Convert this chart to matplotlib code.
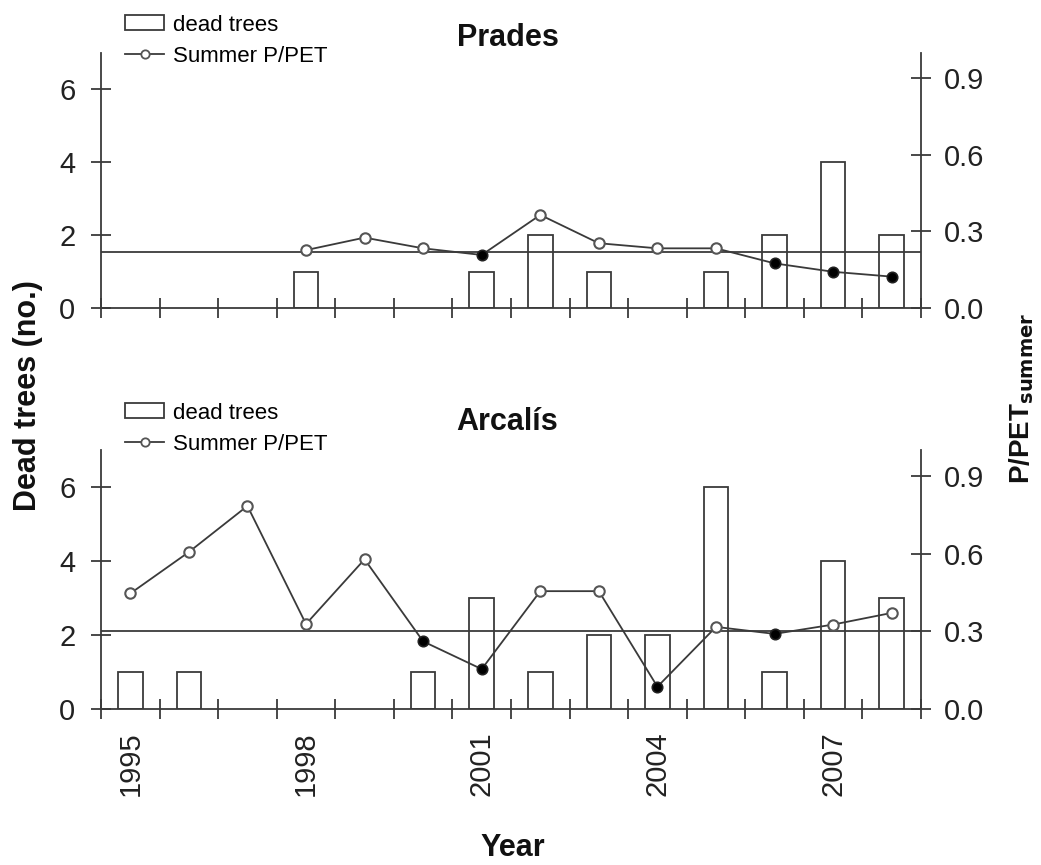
import numpy as np
import matplotlib
matplotlib.use("Agg")
import matplotlib.pyplot as plt
from matplotlib.patches import Patch
from matplotlib.lines import Line2D

plt.rcParams['font.family'] = ['Liberation Sans', 'DejaVu Sans']

years = np.arange(1995, 2009)
label_years = [1995, 1998, 2001, 2004, 2007]

prades_dead = [0, 0, 0, 1, 0, 0, 1, 2, 1, 0, 1, 2, 4, 2]
prades_ppet = [np.nan, np.nan, np.nan, 0.227, 0.276, 0.234, 0.208, 0.365,
               0.254, 0.234, 0.234, 0.175, 0.142, 0.123]
prades_threshold = 0.22

arcalis_dead = [1, 1, 0, 0, 0, 1, 3, 1, 2, 2, 6, 1, 4, 3]
arcalis_ppet = [0.446, 0.606, 0.784, 0.328, 0.578, 0.261, 0.154, 0.455,
                0.455, 0.086, 0.317, 0.290, 0.326, 0.371]
arcalis_threshold = 0.30

EDGE = '#3a3a3a'
TICK_FS = 21

fig = plt.figure(figsize=(10.41, 8.65), dpi=100)
fig.patch.set_facecolor('white')


def panel(rect, dead, ppet, threshold, show_xlabels):
    ax = fig.add_axes(rect)
    ax2 = ax.twinx()
    ax.set_zorder(ax2.get_zorder() - 1)
    ax.patch.set_visible(False)

    dead = np.asarray(dead)
    has = dead > 0
    ax.bar(years[has], dead[has], width=0.42, facecolor='white',
           edgecolor=EDGE, linewidth=1.3, zorder=2)
    ppet = np.asarray(ppet, dtype=float)
    ax2.plot(years, ppet, color=EDGE, linewidth=1.3, zorder=3)
    ax2.axhline(threshold, color=EDGE, linewidth=1.3, zorder=2)
    dry = ppet < threshold
    ax2.plot(years[~dry], ppet[~dry], 'o', ms=7.5, mfc='white', mec='#555555',
             mew=1.5, zorder=4, linestyle='none')
    ax2.plot(years[dry], ppet[dry], 'o', ms=7.5, mfc='black', mec='#222222',
             mew=1.2, zorder=4, linestyle='none')

    ax.set_xlim(1994.5, 2008.5)
    ax.set_ylim(0, 7)
    ax2.set_ylim(0, 1.0)
    ax.set_yticks([0, 2, 4, 6])
    ax2.set_yticks([0.0, 0.3, 0.6, 0.9])
    ax2.set_yticklabels(['0.0', '0.3', '0.6', '0.9'])

    ax.set_xticks(np.arange(1994.5, 2009, 1.0))
    ax.set_xticklabels([])
    ax.set_xticks(label_years, minor=True)
    if show_xlabels:
        ax.set_xticklabels([str(y) for y in label_years], minor=True,
                           rotation=90, fontsize=TICK_FS, color='#222222')
    else:
        ax.set_xticklabels([], minor=True)
    ax.tick_params(axis='x', which='minor', length=0, pad=16)
    ax.tick_params(axis='x', which='major', direction='inout', length=15,
                   width=1.3, color=EDGE)
    ax.tick_params(axis='y', direction='inout', length=15, width=1.3,
                   color=EDGE, labelsize=TICK_FS, pad=11, labelcolor='#222222')
    ax2.tick_params(axis='y', direction='inout', length=15, width=1.3,
                    color=EDGE, labelsize=TICK_FS, pad=9, labelcolor='#222222')

    for a in (ax, ax2):
        a.spines['top'].set_visible(False)
        for s in a.spines.values():
            s.set_color(EDGE)
            s.set_linewidth(1.3)
    ax.spines['right'].set_visible(False)
    ax2.spines['left'].set_visible(False)
    ax2.spines['bottom'].set_visible(False)
    return ax, ax2


left = 101 / 1041
width = 820 / 1041
panel([left, 1 - 308 / 865, width, 255 / 865], prades_dead, prades_ppet,
      prades_threshold, False)
panel([left, 1 - 709 / 865, width, 259 / 865], arcalis_dead, arcalis_ppet,
      arcalis_threshold, True)

handles = [Patch(facecolor='white', edgecolor=EDGE, linewidth=1.3),
           Line2D([], [], color=EDGE, lw=1.3, marker='o', ms=6, mfc='white',
                  mec='#555555', mew=1.3)]
names = ['dead trees', 'Summer P/PET']
for y_top in (1 - 8 / 865, 1 - 396 / 865):
    fig.legend(handles, names, loc='upper left',
               bbox_to_anchor=(0.114, y_top), frameon=False, fontsize=16,
               handlelength=1.75, handleheight=0.65, handletextpad=0.4,
               labelspacing=0.45, borderpad=0.3, borderaxespad=0)

fig.text(508 / 1041, 1 - 38 / 865, 'Prades', ha='center', va='center',
         fontsize=22, fontweight='bold', color='#111111')
fig.text(507 / 1041, 1 - 422 / 865, 'Arcalís', ha='center', va='center',
         fontsize=22, fontweight='bold', color='#111111')
fig.text(28 / 1041, 1 - 396 / 865, 'Dead trees (no.)', rotation=90,
         ha='center', va='center', fontsize=22, fontweight='bold',
         color='#111111')
fig.text(1022 / 1041, 1 - 398 / 865, r'P/PET$_{\mathbf{summer}}$', rotation=90,
         ha='center', va='center', fontsize=20, fontweight='bold',
         color='#111111')
fig.text(513 / 1041, 1 - 848 / 865, 'Year', ha='center', va='center',
         fontsize=22, fontweight='bold', color='#111111')

fig.savefig('out.png', dpi=100, facecolor='white')
